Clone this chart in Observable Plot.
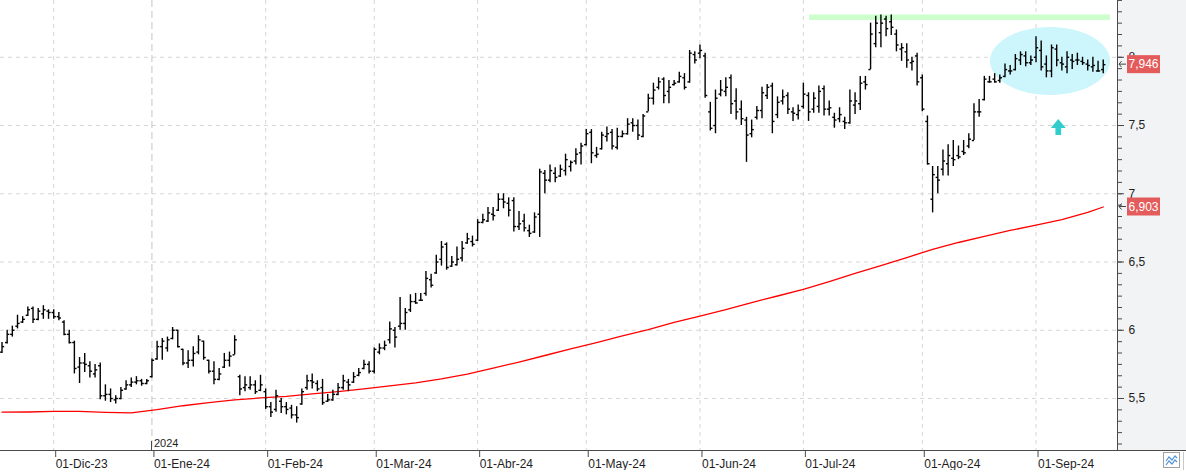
<!DOCTYPE html>
<html><head><meta charset="utf-8">
<script src="https://cdn.jsdelivr.net/npm/d3@7"></script>
<script src="https://cdn.jsdelivr.net/npm/@observablehq/plot@0.6"></script>
<style>
html,body{margin:0;padding:0;background:#fff;}
#chart{position:relative;width:1186px;height:472px;overflow:hidden;}
#chart svg{display:block;font-family:"Liberation Sans",Arial,sans-serif;}
</style></head><body><div id="chart"></div>
<script>
// ---- data ----
const startDate = "2023-11-17";
const holidays = ["2023-12-25","2023-12-26","2024-01-01","2024-03-29","2024-04-01","2024-05-01"];
const monthNames = ["Ene","Feb","Mar","Abr","May","Jun","Jul","Ago","Sep","Oct","Nov","Dic"];

const open = [5.84,5.91,5.97,6.03,6.06,6.11,6.16,6.08,6.12,6.14, 6.13,6.10,6.06,5.97,5.91,5.73,5.76,5.74,5.68,5.74,
5.52,5.53,5.49,5.50,5.57,5.60,5.62,5.63,5.61,5.66, 5.79,5.88,5.87,5.94,6.00,5.86,5.76,5.78,5.84,5.92,
5.78,5.70,5.64,5.73,5.78,5.82,5.66,5.58,5.58,5.60, 5.56,5.55,5.44,5.42,5.48,5.44,5.43,5.38,5.46,5.58,
5.63,5.61,5.58,5.48,5.49,5.53,5.58,5.62,5.62,5.67, 5.72,5.75,5.70,5.84,5.87,5.93,6.00,6.03,6.05,6.15,
6.21,6.22,6.27,6.37,6.42,6.52,6.63,6.47,6.48,6.53, 6.64,6.65,6.66,6.79,6.80,6.85,6.88,6.96,6.93,6.95,
6.76,6.80,6.73,6.72,6.85,7.15,7.10,7.15,7.13,7.17, 7.20,7.24,7.30,7.36,7.45,7.28,7.33,7.42,7.45,7.34,
7.42,7.44,7.52,7.50,7.42,7.60,7.70,7.78,7.84,7.75, 7.80,7.82,7.85,7.82,8.02,8.03,8.01,7.60,7.50,7.73,
7.75,7.85,7.68,7.62,7.54,7.44,7.56,7.61,7.72,7.79, 7.58,7.68,7.72,7.60,7.58,7.64,7.72,7.62,7.64,7.77,
7.62,7.56,7.55,7.53,7.52,7.65,7.66,7.82,7.91,8.10, 8.18,8.28,8.26,8.17,8.06,8.04,7.96,8.01,7.85,7.53,
6.96,7.12,7.18,7.22,7.26,7.28,7.31,7.35,7.39,7.60, 7.69,7.82,7.84,7.83,7.86,7.90,7.91,7.98,8.01,7.96,
8.00,8.05,7.95,7.90,8.06,7.96,7.93,7.98,7.98,7.97, 7.95,7.93,7.90,7.91];
const high = [5.91,6.00,6.03,6.11,6.10,6.17,6.17,6.16,6.18,6.15, 6.15,6.13,6.07,6.00,5.92,5.80,5.83,5.77,5.75,5.76,
5.60,5.57,5.52,5.58,5.63,5.65,5.66,5.64,5.64,5.79, 5.92,5.94,5.95,6.02,6.00,5.86,5.85,5.88,5.96,5.92,
5.78,5.77,5.72,5.83,5.84,5.96,5.67,5.66,5.66,5.63, 5.67,5.57,5.47,5.56,5.50,5.47,5.45,5.44,5.57,5.67,
5.68,5.63,5.64,5.53,5.56,5.61,5.67,5.64,5.69,5.72, 5.78,5.77,5.87,5.90,5.92,6.06,6.02,6.24,6.16,6.26,
6.27,6.27,6.43,6.41,6.55,6.65,6.64,6.54,6.61,6.65, 6.71,6.69,6.81,6.85,6.90,6.90,7.00,7.00,6.97,6.97,
6.87,6.85,6.77,6.86,7.18,7.17,7.21,7.19,7.21,7.29, 7.24,7.33,7.37,7.47,7.47,7.34,7.45,7.49,7.47,7.48,
7.46,7.55,7.55,7.54,7.58,7.73,7.81,7.85,7.85,7.83, 7.83,7.89,7.88,8.05,8.04,8.09,8.03,7.67,7.76,7.83,
7.85,7.87,7.77,7.68,7.56,7.54,7.64,7.78,7.80,7.81, 7.71,7.76,7.74,7.63,7.65,7.81,7.74,7.74,7.79,7.79,
7.68,7.59,7.63,7.56,7.76,7.74,7.86,7.86,8.25,8.30, 8.31,8.30,8.31,8.20,8.10,8.10,8.00,8.03,7.87,7.57,
7.20,7.20,7.32,7.36,7.39,7.35,7.39,7.44,7.66,7.69, 7.86,7.86,7.88,7.87,7.95,7.94,8.02,8.04,8.04,8.01,
8.15,8.12,8.01,8.09,8.09,8.00,8.04,8.02,8.03,8.00, 7.98,8.00,7.97,7.98];
const low = [5.83,5.90,5.95,6.01,6.05,6.10,6.05,6.07,6.08,6.08, 6.08,6.07,5.96,5.90,5.68,5.61,5.69,5.65,5.65,5.49,
5.48,5.47,5.46,5.49,5.56,5.58,5.60,5.59,5.60,5.65, 5.78,5.78,5.84,5.93,5.87,5.74,5.72,5.73,5.82,5.78,
5.68,5.60,5.63,5.72,5.73,5.82,5.52,5.55,5.56,5.53, 5.55,5.42,5.36,5.40,5.39,5.38,5.35,5.32,5.45,5.56,
5.57,5.55,5.45,5.47,5.48,5.52,5.56,5.55,5.61,5.66, 5.71,5.68,5.68,5.82,5.85,5.90,5.87,6.00,6.00,6.13,
6.19,6.21,6.25,6.31,6.41,6.47,6.44,6.46,6.47,6.50, 6.63,6.61,6.65,6.78,6.79,6.80,6.87,6.89,6.83,6.72,
6.73,6.72,6.68,6.71,6.68,7.00,7.08,7.08,7.12,7.13, 7.16,7.21,7.21,7.35,7.22,7.26,7.32,7.38,7.32,7.32,
7.41,7.43,7.45,7.39,7.41,7.60,7.65,7.76,7.66,7.66, 7.79,7.81,7.76,7.81,7.95,7.99,7.70,7.46,7.44,7.71,
7.71,7.58,7.54,7.50,7.23,7.41,7.54,7.55,7.69,7.44, 7.55,7.65,7.58,7.53,7.54,7.62,7.53,7.59,7.59,7.57,
7.57,7.48,7.52,7.47,7.51,7.58,7.61,7.76,7.91,8.07, 8.07,8.15,8.16,8.04,7.97,7.92,7.90,7.79,7.60,7.21,
6.86,7.00,7.13,7.13,7.20,7.25,7.28,7.33,7.39,7.56, 7.68,7.81,7.81,7.81,7.85,7.87,7.90,7.94,7.93,7.94,
7.96,7.90,7.85,7.85,7.93,7.90,7.88,7.91,7.94,7.94, 7.90,7.89,7.89,7.88];
const close = [5.88,5.97,6.00,6.05,6.08,6.15,6.08,6.14,6.15,6.13, 6.10,6.09,5.97,5.91,5.72,5.76,5.75,5.70,5.71,5.52,
5.53,5.50,5.50,5.56,5.60,5.62,5.63,5.61,5.63,5.78, 5.88,5.92,5.93,6.00,5.88,5.76,5.78,5.83,5.93,5.80,
5.70,5.64,5.68,5.78,5.81,5.93,5.57,5.60,5.60,5.55, 5.60,5.44,5.40,5.52,5.44,5.42,5.38,5.36,5.55,5.63,
5.62,5.57,5.47,5.49,5.53,5.58,5.63,5.60,5.66,5.69, 5.75,5.70,5.86,5.87,5.89,6.01,5.95,6.05,6.13,6.21,
6.20,6.22,6.38,6.33,6.50,6.61,6.46,6.50,6.52,6.60, 6.67,6.63,6.79,6.81,6.86,6.84,6.96,6.94,6.88,6.76,
6.78,6.75,6.71,6.83,7.16,7.10,7.17,7.12,7.18,7.25, 7.23,7.29,7.35,7.44,7.30,7.29,7.43,7.44,7.35,7.42,
7.44,7.51,7.50,7.43,7.57,7.70,7.76,7.82,7.72,7.78, 7.81,7.86,7.78,8.03,7.98,8.05,7.72,7.48,7.70,7.76,
7.78,7.66,7.60,7.55,7.43,7.47,7.61,7.74,7.78,7.53, 7.67,7.71,7.62,7.59,7.61,7.73,7.60,7.70,7.75,7.62,
7.63,7.54,7.58,7.52,7.68,7.68,7.81,7.80,8.17,8.25, 8.25,8.21,8.22,8.09,8.07,7.98,7.97,7.82,7.62,7.22,
7.14,7.10,7.24,7.28,7.25,7.27,7.30,7.40,7.60,7.60, 7.84,7.82,7.82,7.85,7.91,7.90,7.99,8.02,7.96,7.98,
8.07,7.93,7.90,8.07,7.98,7.95,8.00,7.97,7.98,7.96, 7.94,7.94,7.90,7.946];

// moving average (sampled along the bars, by bar number)
const maBar = [0,5,10,15,20,25,30,35,40,45,50,55,60,65,70,75,80,85,90,95,100,105,110,115,120,125,130,135,140,145,150,155,160,165,170,175,180,185,190,195,200,205,210,213];
const maValue = [5.400,5.401,5.405,5.405,5.398,5.394,5.418,5.447,5.470,5.490,5.504,5.516,5.534,5.551,5.570,5.592,5.614,5.643,5.679,5.723,5.767,5.815,5.863,5.910,5.958,6.005,6.057,6.104,6.152,6.203,6.251,6.299,6.357,6.416,6.474,6.533,6.592,6.643,6.687,6.731,6.771,6.811,6.863,6.903];

const yTicks = [5.5,6,6.5,7,7.5,8];
const priceTags = [{value: 7.946}, {value: 6.903}];
// annotations (bar-number / price units)
const resistance = [{from: 156.2, to: 214.4, level: 8.293}];
const ellipseBox = {x1: 191.2, x2: 214.4, y1: 7.72, y2: 8.218};
const upArrow = {bar: 204.4, tip: 7.544, base: 7.478, bottom: 7.427, half: 1.45, stemHalf: 0.55};

// ---- build tables ----
const dates = [];
{ let d = new Date(startDate + "T12:00:00Z");
  while (dates.length < close.length) {
    const dow = d.getUTCDay(), iso = d.toISOString().slice(0,10);
    if (dow !== 0 && dow !== 6 && !holidays.includes(iso)) dates.push(new Date(d));
    d.setUTCDate(d.getUTCDate() + 1);
  } }
const bars = close.map((c, i) => ({i, date: dates[i], o: open[i], h: high[i], l: low[i], c}));
const monthTicks = [];
for (let i = 1; i < dates.length; i++) {
  if (dates[i].getUTCMonth() !== dates[i-1].getUTCMonth()) {
    const dt = dates[i];
    monthTicks.push({i, label: "01-" + monthNames[dt.getUTCMonth()] + "-" + String(dt.getUTCFullYear()).slice(2),
      year: dt.getUTCFullYear() !== dates[i-1].getUTCFullYear() ? String(dt.getUTCFullYear()) : null});
  }
}
const labelOf = new Map(monthTicks.map(t => [t.i, t.label]));
const ma = maBar.map((b, k) => ({i: b, v: maValue[k]}));
const minorTicks = d3.range(-4, 36).map(k => 5.5 + k / 12);

const ec = {cx: (ellipseBox.x1 + ellipseBox.x2) / 2, rx: (ellipseBox.x2 - ellipseBox.x1) / 2,
            cy: (ellipseBox.y1 + ellipseBox.y2) / 2, ry: (ellipseBox.y2 - ellipseBox.y1) / 2};
const ellPts = d3.range(0, 81).map(k => { const t = Math.PI * k / 80;
  return {x: ec.cx - ec.rx * Math.cos(t), y1: ec.cy - ec.ry * Math.sin(t), y2: ec.cy + ec.ry * Math.sin(t)}; });
const a = upArrow;
const headPts = [{x: a.bar - a.half, y1: a.base, y2: a.base}, {x: a.bar, y1: a.base, y2: a.tip}, {x: a.bar + a.half, y1: a.base, y2: a.base}];

const xDomain = [-0.29, 215.76];
const yDomain = [5.119, 8.416];

const chart = Plot.plot({
  width: 1186, height: 472,
  marginLeft: 0, marginRight: 69, marginTop: 0, marginBottom: 22,
  x: {domain: xDomain, axis: null},
  y: {domain: yDomain, axis: null},
  style: {fontFamily: '"Liberation Sans", Arial, sans-serif', fontSize: "12px", color: "#1e1e1e", background: "transparent", overflow: "visible"},
  marks: [
    Plot.ruleY(yTicks, {stroke: "#d6d6d6", strokeDasharray: "4,4"}),
    Plot.ruleX(monthTicks.filter(t => !t.year), {x: "i", stroke: "#d6d6d6", strokeDasharray: "4,4"}),
    Plot.ruleX(monthTicks.filter(t => t.year), {x: "i", stroke: "#c4c4c4", strokeDasharray: "7,4"}),
    Plot.areaY(ellPts, {x: "x", y1: "y1", y2: "y2", fill: "#ccf6fb", curve: "linear"}),
    Plot.ruleY(resistance, {y: "level", x1: "from", x2: "to", stroke: "#ccffcc", strokeWidth: 5.5}),
    Plot.line(ma, {x: "i", y: "v", stroke: "#ff0000", strokeWidth: 1.3}),
    Plot.ruleX(bars, {x: "i", y1: "l", y2: "h", stroke: "#000", strokeWidth: 1.4}),
    Plot.link(bars, {x1: d => d.i - 0.42, x2: "i", y1: "o", y2: "o", stroke: "#000", strokeWidth: 1.4}),
    Plot.link(bars, {x1: "i", x2: d => d.i + 0.42, y1: "c", y2: "c", stroke: "#000", strokeWidth: 1.4}),
    Plot.areaY(headPts, {x: "x", y1: "y1", y2: "y2", fill: "#33cccc", curve: "linear"}),
    Plot.rect([a], {x1: d => d.bar - d.stemHalf, x2: d => d.bar + d.stemHalf, y1: "bottom", y2: "base", fill: "#33cccc"}),
    Plot.ruleX([xDomain[1]], {stroke: "#4a4a4a"}),
    Plot.axisY(minorTicks, {anchor: "right", tickSize: 4, tickFormat: () => "", stroke: "#4a4a4a"}),
    Plot.axisY(yTicks, {anchor: "right", tickSize: 6, tickPadding: 5, textAnchor: "start", stroke: "#4a4a4a",
      tickFormat: d => String(d).replace(".", ","), fontSize: 12}),
    Plot.axisX(monthTicks.map(t => t.i), {anchor: "bottom", tickSize: 7, tickPadding: 1.5, textAnchor: "start", dx: 2,
      stroke: "#4a4a4a", tickFormat: i => labelOf.get(i), fontSize: 12}),
    Plot.text(monthTicks.filter(t => t.year), {x: "i", y: () => yDomain[0], text: "year", textAnchor: "start", lineAnchor: "bottom", dx: 2, dy: -4, fontSize: 11})
  ]
});

const root = document.getElementById("chart");
root.appendChild(chart);
const svg = d3.select(chart);
const xs = chart.scale("x"), ys = chart.scale("y");
const xRight = xs.apply(xDomain[1]), yBottom = ys.apply(yDomain[0]);
// backgrounds
svg.insert("rect", ":first-child").attr("x", 0).attr("y", yBottom).attr("width", 1186).attr("height", 472 - yBottom).attr("fill", "#fff");
svg.insert("rect", ":first-child").attr("x", 0).attr("y", yBottom).attr("width", 1186).attr("height", 20).attr("fill", "#f0f0f0");
svg.insert("rect", ":first-child").attr("x", xRight).attr("y", 0).attr("width", 1186 - xRight).attr("height", yBottom).attr("fill", "#f2f3f5");
svg.insert("rect", ":first-child").attr("x", 0).attr("y", 0).attr("width", 1186).attr("height", 472).attr("fill", "#fff");
// bottom sections
const ov = svg.append("g");
ov.append("rect").attr("x", 0).attr("y", yBottom + 20).attr("width", 1186).attr("height", 472 - yBottom - 20).attr("fill", "#fff");
ov.append("line").attr("x1", 0).attr("x2", 1186).attr("y1", yBottom + 0.5).attr("y2", yBottom + 0.5).attr("stroke", "#4a4a4a");
// year marker tick
monthTicks.filter(t => t.year).forEach(t => {
  const x = Math.round(xs.apply(t.i)) + 0.5;
  ov.append("line").attr("x1", x).attr("x2", x).attr("y1", yBottom - 9).attr("y2", yBottom).attr("stroke", "#4a4a4a");
});
// price tags
priceTags.forEach(p => {
  const y = ys.apply(p.value);
  const g = ov.append("g");
  g.append("path").attr("d", `M${xRight+2},${y} L${xRight+9},${y} M${xRight+4.5},${y-3} L${xRight+2},${y} L${xRight+4.5},${y+3}`)
    .attr("stroke", "#444").attr("fill", "none").attr("stroke-width", 1);
  g.append("rect").attr("x", xRight + 10).attr("y", y - 9).attr("width", 33).attr("height", 18).attr("fill", "#e35b5b");
  g.append("text").attr("x", xRight + 26.5).attr("y", y).attr("dy", "0.35em").attr("text-anchor", "middle")
    .attr("fill", "#fff").attr("font-size", 12).text(String(p.value).replace(".", ","));
});
// corner icon
const ic = ov.append("g");
ic.append("rect").attr("x", 1163.5).attr("y", 452.5).attr("width", 16).attr("height", 15).attr("fill", "#fff").attr("stroke", "#a0a0a0");
ic.append("path").attr("d", "M1166,461 L1169,457 L1172,460 L1175,456 L1177,458 M1166,465 L1169,461 L1172,464 L1175,460 L1177,462")
  .attr("stroke", "#4f93d8").attr("fill", "none").attr("stroke-width", 1.2);
ov.append("line").attr("x1", 1183.5).attr("x2", 1183.5).attr("y1", 452).attr("y2", 470).attr("stroke", "#c8c8c8");
</script></body></html>
